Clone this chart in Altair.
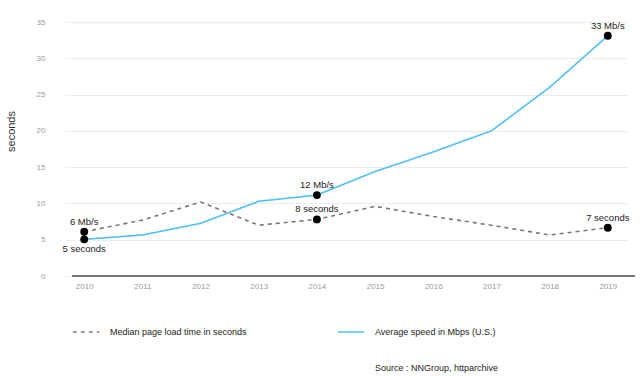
import altair as alt
import pandas as pd

years = [2010, 2011, 2012, 2013, 2014, 2015, 2016, 2017, 2018, 2019]
load_time = [6.1, 7.7, 10.2, 7.0, 7.8, 9.6, 8.2, 7.0, 5.65, 6.65]
speed = [5.05, 5.65, 7.26, 10.3, 11.15, 14.4, 17.1, 20.0, 26.0, 33.1]

series_load = "Median page load time in seconds"
series_speed = "Average speed in Mbps (U.S.)"

ann_year = [2010, 2010, 2014, 2014, 2019, 2019]
ann_value = [6.1, 5.05, 11.15, 7.8, 33.1, 6.65]
ann_label = ["6 Mb/s", "5 seconds", "12 Mb/s", "8 seconds", "33 Mb/s", "7 seconds"]
ann_above = [True, False, True, True, True, True]

y_ticks = [0, 5, 10, 15, 20, 25, 30, 35]

FONT = "Liberation Sans"

lines_df = pd.DataFrame({
    "year": [str(y) for y in years] * 2,
    "value": load_time + speed,
    "series": [series_load] * len(years) + [series_speed] * len(years),
})
ann_df = pd.DataFrame({
    "year": [str(y) for y in ann_year],
    "value": ann_value,
    "label": ann_label,
    "above": ann_above,
})

x_enc = alt.X(
    "year:O",
    scale=alt.Scale(type="point", padding=0.33),
    axis=alt.Axis(title=None, domain=False, ticks=False, labelAngle=0,
                  labelColor="#9a9a9a", labelFontSize=8, labelFont=FONT,
                  labelPadding=6, grid=False),
)
y_scale = alt.Scale(domain=[0, 35], nice=False)
y_axis = alt.Axis(title="seconds", values=y_ticks, domain=False, ticks=False,
                  labelOverlap=False,
                  labelColor="#9a9a9a", labelFontSize=8, labelFont=FONT,
                  labelPadding=20, grid=True, gridColor="#ececec", gridWidth=1,
                  titleFont=FONT, titleFontSize=11, titleFontWeight="normal",
                  titleColor="#333333", titleAngle=-90, titleX=-54, titleY=109,
                  titleAlign="center", titleBaseline="middle")


def y_enc(field):
    return alt.Y(field, scale=y_scale, axis=y_axis)


legend = alt.Legend(
    orient="none", legendX=7, legendY=296, direction="horizontal", title=None,
    symbolType="stroke", symbolSize=700, symbolStrokeWidth=1.5,
    labelFontSize=9, labelFont=FONT, labelColor="#222222",
    columnPadding=87, labelOffset=10,
)
dom = [series_load, series_speed]

lines = alt.Chart(lines_df).mark_line(strokeWidth=1.6).encode(
    x=x_enc,
    y=y_enc("value:Q"),
    color=alt.Color("series:N", scale=alt.Scale(domain=dom, range=["#777777", "#4fc0f5"]),
                    legend=legend),
    strokeDash=alt.StrokeDash("series:N", scale=alt.Scale(domain=dom, range=[[4, 4], [1, 0]]),
                              legend=legend),
)

baseline = alt.Chart(pd.DataFrame({"v": [0]})).mark_rule(color="#777777", strokeWidth=2).encode(
    y=y_enc("v:Q"),
    x=alt.value(7), x2=alt.value(570),
)

dots = alt.Chart(ann_df).mark_circle(color="black", opacity=1, size=62).encode(
    x=x_enc, y=y_enc("value:Q"),
)

labels_above = alt.Chart(ann_df).transform_filter("datum.above").mark_text(
    dy=-10, fontSize=9.5, font=FONT, color="#222222", baseline="middle"
).encode(x=x_enc, y=y_enc("value:Q"), text="label:N")

labels_below = alt.Chart(ann_df).transform_filter("!datum.above").mark_text(
    dy=10, fontSize=9.5, font=FONT, color="#222222", baseline="middle"
).encode(x=x_enc, y=y_enc("value:Q"), text="label:N")

source = alt.Chart(pd.DataFrame({"t": ["Source : NNGroup, httparchive"]})).mark_text(
    align="left", baseline="middle", fontSize=9, font=FONT, color="#222222"
).encode(x=alt.value(310), y=alt.value(346), text="t:N")

chart = alt.layer(baseline, lines, dots, labels_above, labels_below, source).properties(
    width=562, height=254,
    background="white",
    autosize=alt.AutoSizeParams(type="none"),
    padding={"left": 65, "top": 22, "right": 13, "bottom": 101},
).configure_view(stroke=None)

chart.save("out.html", embed_options={"renderer": "svg", "actions": False})
